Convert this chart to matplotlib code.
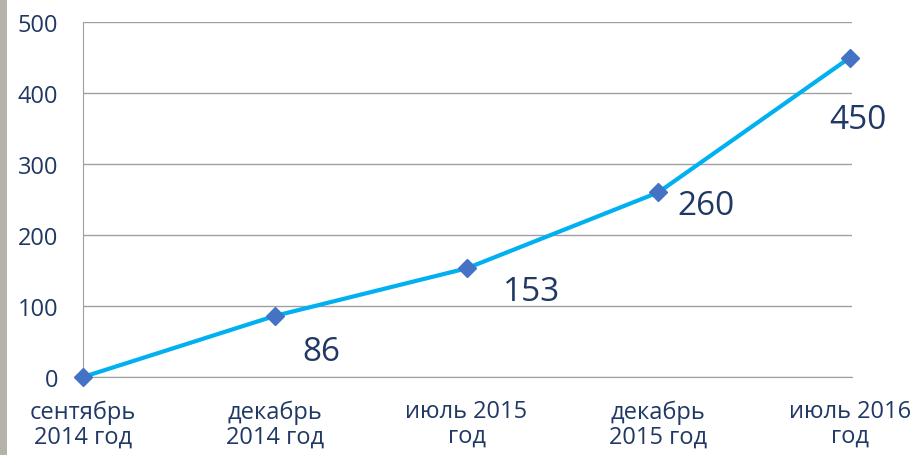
import matplotlib
matplotlib.use("Agg")
import matplotlib.pyplot as plt
from matplotlib.patches import Rectangle

plt.rcParams['font.family'] = ['Open Sans', 'DejaVu Sans']

# data
periods = ["сентябрь\n2014 год", "декабрь\n2014 год", "июль 2015\nгод",
           "декабрь\n2015 год", "июль 2016\nгод"]
counts = [0, 86, 153, 260, 450]
yticks = [0, 100, 200, 300, 400, 500]
label_offsets = [(0, 0), (47, -36), (65, -23), (48, -13), (8, -62)]  # px

text_color = "#1f3864"
line_color = "#00b0f0"
marker_color = "#4472c4"
grid_color = "#a0a0a0"

fig = plt.figure(figsize=(9.22, 4.56), dpi=100)
fig.patches.append(Rectangle((0, 0), 7 / 922, 1, transform=fig.transFigure,
                             facecolor="#b4b2aa", edgecolor="none"))
ax = fig.add_axes([83 / 922, 1 - 378 / 456, 769 / 922, 355 / 456])

x = list(range(len(counts)))
ax.plot(x, counts, color=line_color, lw=3, marker="D", markersize=9,
        markerfacecolor=marker_color, markeredgecolor=marker_color,
        clip_on=False, zorder=3)

for i, v in enumerate(counts):
    if v == 0:
        continue
    dx, dy = label_offsets[i]
    ax.annotate(str(v), (i, v), xytext=(dx * 0.72, dy * 0.72),
                textcoords="offset points", ha="center", va="center",
                fontsize=24, color=text_color)

ax.set_xlim(0, 4.01)
ax.set_ylim(0, 500)
ax.set_yticks(yticks)
ax.set_xticks(x)
ax.set_xticklabels(periods, fontsize=17, color=text_color, linespacing=1.05)
ax.tick_params(axis="y", labelsize=17, labelcolor=text_color, length=0, pad=18)
ax.tick_params(axis="x", length=0, pad=16)
ax.grid(axis="y", color=grid_color, lw=1)
ax.set_axisbelow(True)
for side in ["top", "right"]:
    ax.spines[side].set_visible(False)
ax.spines["left"].set_color(grid_color)
ax.spines["bottom"].set_color(grid_color)

fig.savefig("out.png", dpi=100)
